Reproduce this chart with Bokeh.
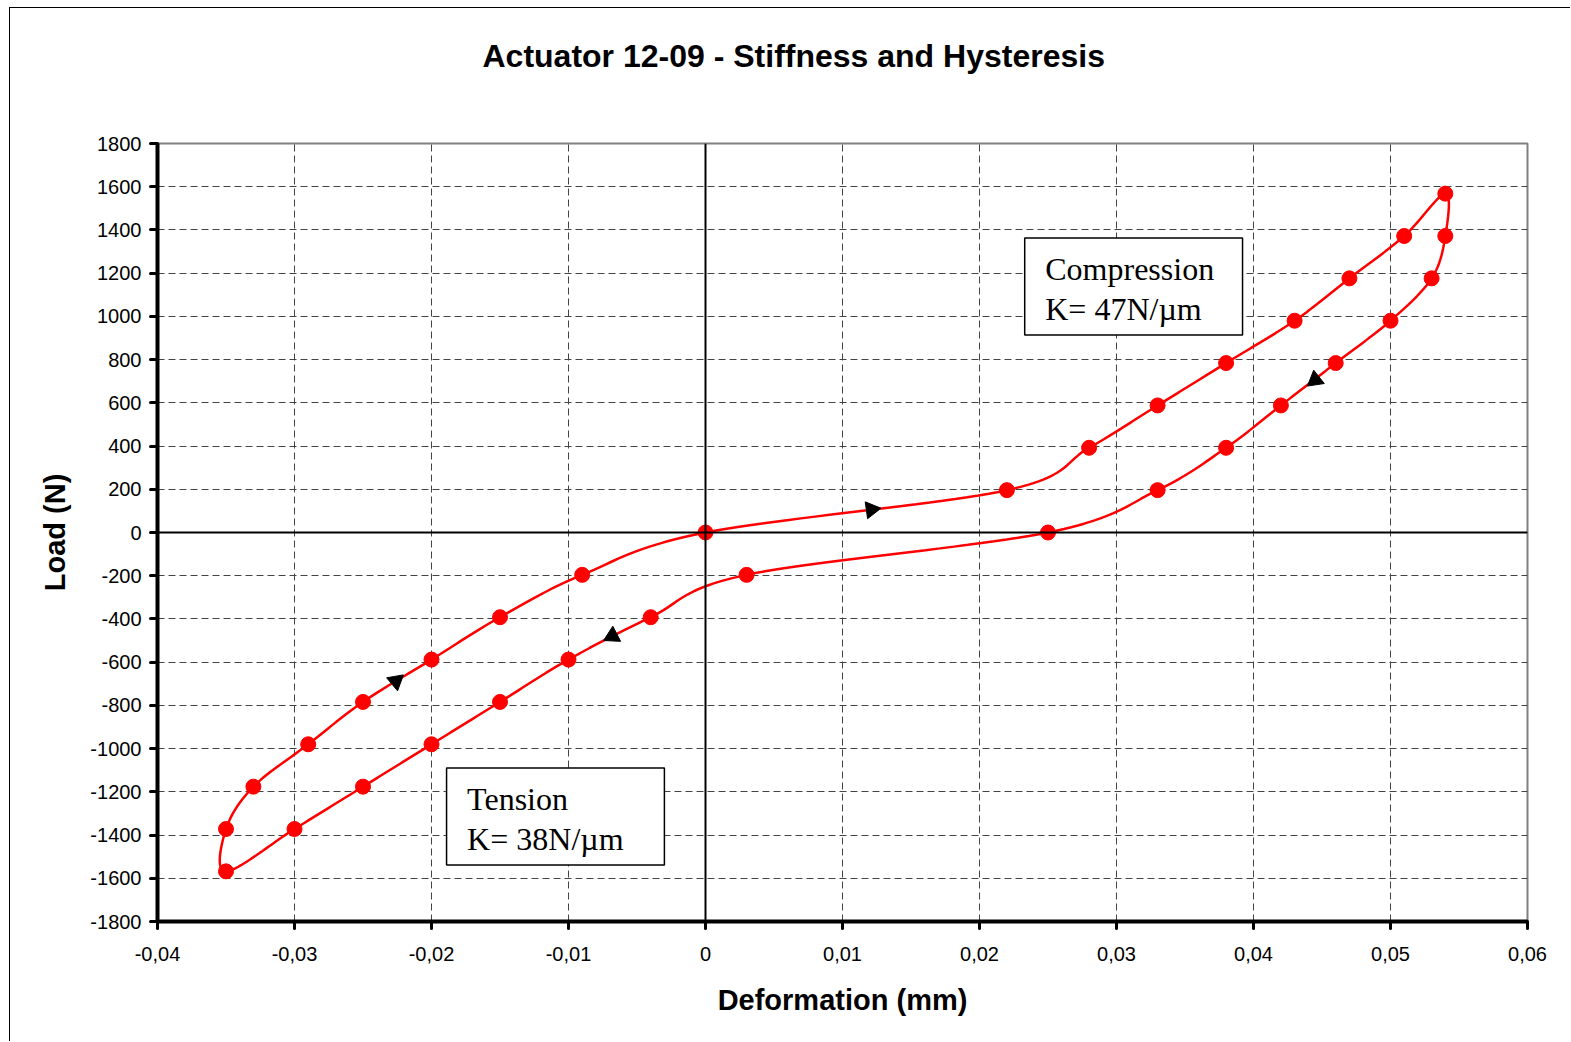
import math
import numpy as np
from bokeh.plotting import figure
from bokeh.models import Range1d, FixedTicker, Span, InlineStyleSheet, Title
from bokeh.core.properties import value
from bokeh.embed import file_html
from bokeh.resources import INLINE

# Load cycle measurements: deformation (mm) and load (N)
loading_def = [0.0, 0.022, 0.028, 0.033, 0.038, 0.043, 0.047, 0.051, 0.054]
loading_load = [0, 196, 392, 588, 784, 980, 1176, 1372, 1568]

unloading_def = [0.054, 0.053, 0.050, 0.046, 0.042, 0.038, 0.033, 0.025,
                 0.003, -0.004, -0.010, -0.015, -0.020, -0.025, -0.030, -0.035]
unloading_load = [1372, 1176, 980, 784, 588, 392, 196, 0,
                  -196, -392, -588, -784, -980, -1176, -1372, -1568]

return_def = [-0.035, -0.033, -0.029, -0.025, -0.020, -0.015, -0.009]
return_load = [-1372, -1176, -980, -784, -588, -392, -196]

# Direction arrows along the loop
arrow_def = [0.0121, 0.0445, -0.0068, -0.0226]
arrow_load = [106, 706, -479, -688]
arrow_dir_deg = [8.0, -141.5, -152.9, 40.0]

# Axis ticks
x_ticks = [-0.04, -0.03, -0.02, -0.01, 0.0, 0.01, 0.02, 0.03, 0.04, 0.05, 0.06]
x_tick_labels = ["-0,04", "-0,03", "-0,02", "-0,01", "0", "0,01", "0,02",
                 "0,03", "0,04", "0,05", "0,06"]
y_ticks = [-1800, -1600, -1400, -1200, -1000, -800, -600, -400, -200, 0,
           200, 400, 600, 800, 1000, 1200, 1400, 1600, 1800]
y_tick_labels = ["-1800", "-1600", "-1400", "-1200", "-1000", "-800", "-600",
                 "-400", "-200", "0", "200", "400", "600", "800", "1000",
                 "1200", "1400", "1600", "1800"]

X_MIN, X_MAX = -0.04, 0.06
Y_MIN, Y_MAX = -1800, 1800

FIG_W, FIG_H = 1561, 1034
B_LEFT, B_RIGHT, B_TOP, B_BOTTOM = 147, 44, 135, 121
FRAME_W = FIG_W - B_LEFT - B_RIGHT
FRAME_H = FIG_H - B_TOP - B_BOTTOM


def smooth_closed(xs, ys, sx, sy, steps=24):
    """Closed Catmull-Rom (Bezier 1/6) smoothing done in screen proportions."""
    P = np.column_stack([np.array(xs) * sx, np.array(ys) * sy])
    n = len(P)
    out = []
    for i in range(n):
        p0, p1, p2, p3 = P[(i - 1) % n], P[i], P[(i + 1) % n], P[(i + 2) % n]
        c1 = p1 + (p2 - p0) / 6.0
        c2 = p2 - (p3 - p1) / 6.0
        for t in np.linspace(0, 1, steps, endpoint=False):
            b = ((1 - t) ** 3) * p1 + 3 * ((1 - t) ** 2) * t * c1 \
                + 3 * (1 - t) * t * t * c2 + t ** 3 * p2
            out.append(b)
    out.append(out[0])
    out = np.array(out)
    return out[:, 0] / sx, out[:, 1] / sy


loop_def = loading_def + unloading_def + return_def
loop_load = loading_load + unloading_load + return_load
sx = FRAME_W / (X_MAX - X_MIN)
sy = FRAME_H / (Y_MAX - Y_MIN)
curve_x, curve_y = smooth_closed(loop_def, loop_load, sx, sy)

border_css = InlineStyleSheet(css=":host { border-left: 1px solid #000; border-top: 1px solid #000; }")

p = figure(width=FIG_W, height=FIG_H, output_backend="svg", toolbar_location=None,
           x_range=Range1d(X_MIN, X_MAX), y_range=Range1d(Y_MIN, Y_MAX),
           min_border_left=B_LEFT, min_border_right=B_RIGHT,
           min_border_top=B_TOP, min_border_bottom=B_BOTTOM,
           stylesheets=[border_css])
p.margin = (7, 0, 0, 9)
p.background_fill_color = "white"
p.border_fill_color = "white"
p.outline_line_color = "#808080"
p.outline_line_width = 2
p.title = None

# Blank spacer panel between the frame and the chart title
p.add_layout(Title(text=" ", text_font="Liberation Sans", text_font_size="32px",
                   standoff=27), "above")
# Chart title
p.add_layout(Title(text="Actuator 12-09 - Stiffness and Hysteresis",
                   text_font="Liberation Sans", text_font_size="32px",
                   text_font_style="bold", text_color="black",
                   align="left", offset=325, standoff=10), "above")

# Axes
for ax in (p.xaxis[0], p.yaxis[0]):
    ax.axis_line_color = "black"
    ax.axis_line_width = 4
    ax.major_tick_line_color = "black"
    ax.major_tick_line_width = 3
    ax.major_tick_line_cap = "round"
    ax.major_tick_out = 7
    ax.major_tick_in = 0
    ax.minor_tick_line_color = None
    ax.major_label_text_font = "Liberation Sans"
    ax.major_label_text_font_size = "20px"
    ax.major_label_text_color = "black"
    ax.axis_label_text_font = "Liberation Sans"
    ax.axis_label_text_font_size = "29px"
    ax.axis_label_text_font_style = "bold"
    ax.axis_label_text_color = "black"

p.xaxis.ticker = FixedTicker(ticks=x_ticks)
p.xaxis.major_label_overrides = dict(zip(x_ticks, x_tick_labels))
p.xaxis.major_label_standoff = 18
p.xaxis.axis_label = "Deformation (mm)"
p.xaxis.axis_label_standoff = 20

p.yaxis.ticker = FixedTicker(ticks=y_ticks)
p.yaxis.major_label_overrides = dict(zip(y_ticks, y_tick_labels))
p.yaxis.major_label_standoff = 9
p.yaxis.axis_label = "Load (N)"
p.yaxis.axis_label_standoff = 16

# Dashed grid
p.xgrid.ticker = FixedTicker(ticks=x_ticks)
p.ygrid.ticker = FixedTicker(ticks=y_ticks)
for g in (p.xgrid[0], p.ygrid[0]):
    g.grid_line_color = "#444444"
    g.grid_line_width = 1
    g.grid_line_dash = "7 4"

# Zero lines
p.add_layout(Span(location=0, dimension="height", line_color="black", line_width=2))
p.add_layout(Span(location=0, dimension="width", line_color="black", line_width=2))

# Annotation boxes
p.quad(left=[0.0233, -0.0189], right=[0.0392, -0.0030],
       top=[1363, -1090], bottom=[914, -1539],
       fill_color="white", line_color="black", line_width=1.5)
p.text(x=[0.0248, 0.0248, -0.0174, -0.0174],
       y=[1219, 1034, -1235, -1420],
       text=["Compression", "K= 47N/µm", "Tension", "K= 38N/µm"],
       text_font=value("Liberation Serif"), text_font_size="32px",
       text_color="black", text_baseline="alphabetic", text_align="left")

# Hysteresis loop
p.line(curve_x, curve_y, line_color="#ff0000", line_width=2.5)
p.scatter(loop_def, loop_load, size=15, fill_color="#ff0000", line_color="#ff0000")

# Direction arrows
arrow_angle = [math.radians(d - 90.0) for d in arrow_dir_deg]
p.scatter(arrow_def, arrow_load, marker="triangle", size=17, angle=arrow_angle,
          fill_color="black", line_color="black")

open("out.html", "w").write(file_html(p, INLINE))
